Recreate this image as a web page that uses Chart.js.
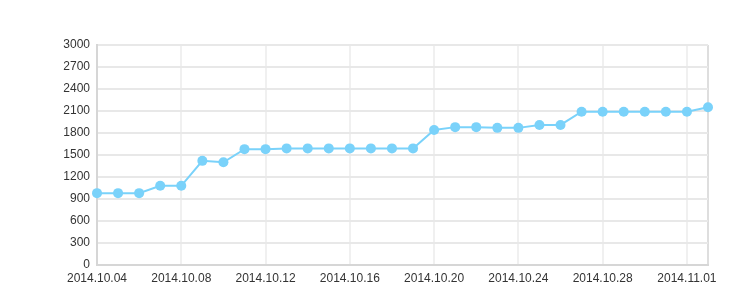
<!DOCTYPE html>
<html>
<head>
<meta charset="utf-8">
<script src="https://cdn.jsdelivr.net/npm/chart.js@4.4.0/dist/chart.umd.min.js"></script>
<style>
  html, body { margin: 0; padding: 0; background: #fff; }
  #wrap { width: 743px; height: 308px; }
</style>
</head>
<body>
<div id="wrap"><canvas id="myChart" width="743" height="308"></canvas></div>
<script>
// dates, one point per day
const dates = ['2014.10.04','2014.10.05','2014.10.06','2014.10.07','2014.10.08','2014.10.09','2014.10.10',
  '2014.10.11','2014.10.12','2014.10.13','2014.10.14','2014.10.15','2014.10.16','2014.10.17','2014.10.18',
  '2014.10.19','2014.10.20','2014.10.21','2014.10.22','2014.10.23','2014.10.24','2014.10.25','2014.10.26',
  '2014.10.27','2014.10.28','2014.10.29','2014.10.30','2014.10.31','2014.11.01','2014.11.02'];
const values = [980, 980, 980, 1080, 1080, 1420, 1400, 1580, 1580, 1590, 1590, 1590, 1590, 1590, 1590,
  1590, 1840, 1880, 1880, 1870, 1870, 1910, 1910, 2090, 2090, 2090, 2090, 2090, 2090, 2150];
const yMin = 0, yMax = 3000, yStep = 300;

const lineColor = 'rgb(122, 210, 250)';

var ctx = document.getElementById('myChart').getContext('2d');
var chart = new Chart(ctx, {
  type: 'line',
  data: {
    labels: dates,
    datasets: [{
      data: values,
      borderColor: lineColor,
      backgroundColor: lineColor,
      borderWidth: 2,
      pointRadius: 5,
      pointBorderWidth: 0,
      pointBackgroundColor: lineColor,
      tension: 0
    }]
  },
  options: {
    responsive: false,
    animation: false,
    layout: { padding: { left: 0, right: 35, top: 45, bottom: 0 } },
    plugins: { legend: { display: false }, tooltip: { enabled: false } },
    scales: {
      x: {
        offset: false,
        grid: {
          drawTicks: false,
          color: c => (c.index % 4 === 0 ? '#f0f0f0' : (c.index === dates.length - 1 ? '#dedede' : 'rgba(0,0,0,0)')),
          lineWidth: 2
        },
        border: { color: '#d6d6d6', width: 2 },
        ticks: {
          autoSkip: false,
          maxRotation: 0,
          padding: 6,
          color: '#333',
          font: { family: 'Liberation Sans, Arial, sans-serif', size: 12 },
          callback: function (v, i) { return i % 4 === 0 ? dates[i] : ''; }
        },
        afterFit: s => { s.height = 43; }
      },
      y: {
        min: yMin,
        max: yMax,
        grid: { drawTicks: false, color: '#e8e8e8', lineWidth: 2 },
        border: { color: '#d6d6d6', width: 2 },
        ticks: {
          stepSize: yStep,
          padding: 7,
          color: '#333',
          font: { family: 'Liberation Sans, Arial, sans-serif', size: 12 },
          callback: v => String(v)
        },
        afterFit: s => { s.width = 97; }
      }
    }
  }
});
</script>
</body>
</html>
